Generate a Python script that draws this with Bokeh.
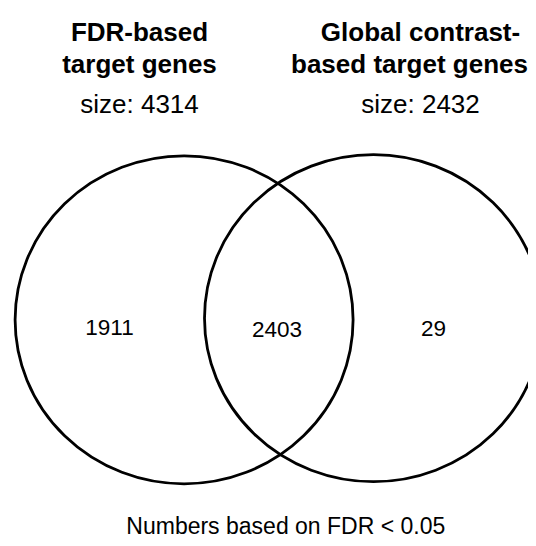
from bokeh.plotting import figure
from bokeh.models import Range1d
from bokeh.core.properties import value
from bokeh.embed import file_html
from bokeh.resources import INLINE

# ---- data ----
set_title_line1 = ["FDR-based", "Global contrast-"]
set_title_line2 = ["target genes", "based target genes"]
set_sizes = [4314, 2432]
region_counts = [1911, 2403, 29]
note_text = "Numbers based on FDR < 0.05"

# ---- layout (reference pixel coordinates) ----
FW, FH = 528, 538
p = figure(width=FW, height=FH, output_backend="svg", toolbar_location=None,
           x_range=Range1d(0, FW), y_range=Range1d(FH, 0), min_border=0)
p.axis.visible = False
p.grid.visible = False
p.outline_line_color = None
p.background_fill_color = "white"
p.border_fill_color = "white"

FONT = value("Liberation Sans")
DY = -8  # baseline compensation

circle_x = [183.6, 373.0]
circle_y = [319.3, 317.7]
circle_w = [338, 338]
circle_h = [328, 327]
p.ellipse(x=circle_x, y=circle_y, width=circle_w, height=circle_h,
          fill_color=None, line_color="black", line_width=2.8)

title_x = [139, 420]
p.text(x=title_x, y=[39.3 + DY] * 2, text=set_title_line1, text_font=FONT,
       text_font_size="26px", text_font_style="bold", text_align="center",
       text_baseline="alphabetic", text_color="black")
p.text(x=[139, 409], y=[71.8 + DY] * 2, text=set_title_line2, text_font=FONT,
       text_font_size="26px", text_font_style="bold", text_align="center",
       text_baseline="alphabetic", text_color="black")
p.text(x=title_x, y=[111 + DY] * 2, text=[f"size: {s}" for s in set_sizes], text_font=FONT,
       text_font_size="26px", text_align="center",
       text_baseline="alphabetic", text_color="black")

count_x = [109, 276.6, 433]
p.text(x=count_x, y=[335 + DY, 337 + DY, 336 + DY], text=[str(c) for c in region_counts],
       text_font=FONT, text_font_size="22.5px", text_align="center",
       text_baseline="alphabetic", text_color="black")

p.text(x=[285.3], y=[533 + DY], text=[note_text], text_font=FONT,
       text_font_size="23px", text_align="center",
       text_baseline="alphabetic", text_color="black")

open("out.html", "w").write(file_html(p, INLINE))
